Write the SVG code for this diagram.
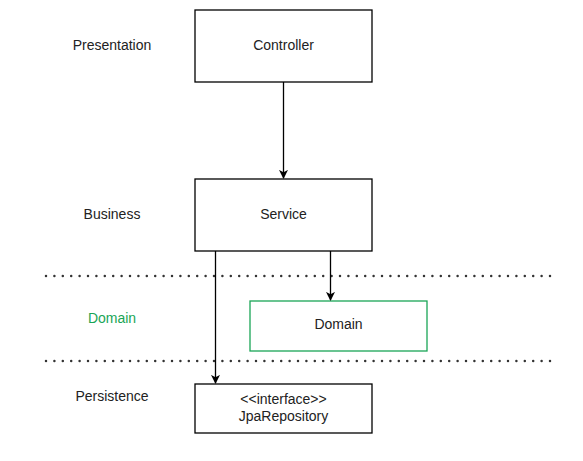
<svg xmlns="http://www.w3.org/2000/svg" width="583" height="461" viewBox="0 0 583 461">
<style>
text{font-family:"Liberation Sans",Arial,sans-serif;font-size:14px;fill:#222;text-anchor:middle}
.box{fill:#fff;stroke:#000;stroke-width:1.3}
.green{fill:#fff;stroke:#1aa556;stroke-width:1.3}
.lbl{fill:#1aa556}
.edge{fill:none;stroke:#000;stroke-width:1.3}
.sep{stroke:#333;stroke-width:2.5;stroke-dasharray:0 8.4;stroke-linecap:round}
</style>
<defs>
<marker id="arr" viewBox="0 0 10 10" refX="9" refY="5" markerWidth="9" markerHeight="9" markerUnits="userSpaceOnUse" orient="auto">
<path d="M0,0 L10,5 L0,10 L2.5,5 z" fill="#000"/>
</marker>
</defs>
<rect width="583" height="461" fill="#fff"/>
<g id="separators">
<line class="sep" x1="46" y1="276" x2="551" y2="276"/>
<line class="sep" x1="46" y1="361" x2="551" y2="361"/>
</g>
<g id="labels">
<text x="112" y="50">Presentation</text>
<text x="112" y="219">Business</text>
<text class="lbl" x="112" y="323">Domain</text>
<text x="112" y="401">Persistence</text>
</g>
<g id="controller"><rect class="box" x="195" y="10" width="177" height="72"/><text x="283.5" y="50">Controller</text></g>
<g id="service"><rect class="box" x="195" y="179" width="177" height="72"/><text x="283.5" y="219">Service</text></g>
<g id="domain"><rect class="green" x="250" y="301" width="177" height="50"/><text x="338.5" y="329">Domain</text></g>
<g id="jpa"><rect class="box" x="195" y="384" width="177" height="49"/><text x="283.5" y="404">&lt;&lt;interface&gt;&gt;</text><text x="283.5" y="421">JpaRepository</text></g>
<g id="connectors">
<line class="edge" x1="283.5" y1="82" x2="283.5" y2="178" marker-end="url(#arr)"/>
<line class="edge" x1="330.5" y1="251" x2="330.5" y2="300" marker-end="url(#arr)"/>
<line class="edge" x1="215.5" y1="251" x2="215.5" y2="383" marker-end="url(#arr)"/>
</g>
</svg>
